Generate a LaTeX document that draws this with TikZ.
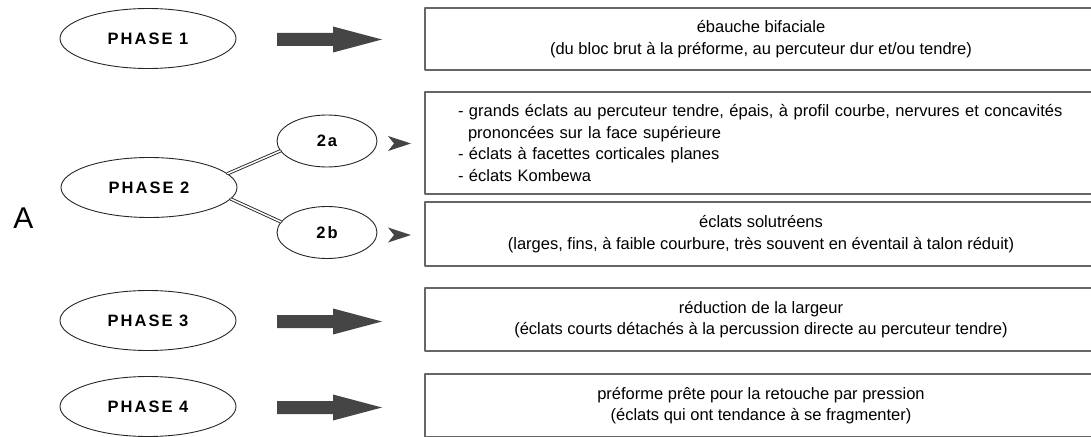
\documentclass[tikz,border=0pt]{standalone}
\usepackage{fontspec}
\setmainfont{Liberation Sans}
\usetikzlibrary{shapes.geometric}
\newcommand{\LineColor}{black!85}
\definecolor{ArrowGray}{gray}{0.27}
\definecolor{BoxGray}{gray}{0.40}

\begin{document}
\begin{tikzpicture}[line cap=round,line join=round,x=1pt,y=-1pt,
  phase/.style={ellipse,draw=\LineColor,line width=0.9pt,inner sep=0pt,
    minimum width=176pt,minimum height=60pt,
    font=\fontsize{16.5}{20}\selectfont\bfseries\addfontfeatures{LetterSpace=12}},
  subphase/.style={phase,minimum width=100pt,minimum height=52pt},
  stepbox/.style={draw=BoxGray,line width=1.5pt,minimum width=672pt,
    inner sep=0pt,align=center,font=\fontsize{16.5}{21.5}\selectfont},
  branch/.style={draw=\LineColor,double=white,double distance=1.5pt,line width=0.9pt}]
  \useasboundingbox (0,0) rectangle (1091,436);
  \clip (0,0) rectangle (1091,436);
  \node (lbl) at (23.5,218) {\fontsize{30}{30}\selectfont A};
  \node[phase] (p1) at (148,38.5) {PHASE 1};
  \node[phase] (p2) at (149,187.5) {PHASE 2};
  \node[subphase] (p2a) at (327,141) {2a};
  \node[subphase] (p2b) at (327,232.5) {2b};
  \node[phase] (p3) at (148,320.5) {PHASE 3};
  \node[phase] (p4) at (148,406.5) {PHASE 4};
  \draw[branch] (p2.10) -- (p2a.192);
  \draw[branch] (p2.-8) -- (p2b.167);
  % block arrows and small heads
  \foreach \y in {39.5,321.5,407.5}
    \fill[ArrowGray] (277,\y-6.5) -- (333,\y-6.5) -- (333,\y-13) -- (382,\y)
      -- (333,\y+13) -- (333,\y+6.5) -- (277,\y+6.5) -- cycle;
  \foreach \y in {143.5,235}
    \fill[ArrowGray] (388,\y-7.5) -- (411,\y) -- (388,\y+7.5) -- (394,\y) -- cycle;
  % boxes
  \node[stepbox,minimum height=62pt] (b1) at (761,39)
    {ébauche bifaciale\\(du bloc brut à la préforme, au percuteur dur et/ou tendre)};
  \node[stepbox,minimum height=102pt,align=left,text width=606pt] (b2) at (761,143)
    {- grands éclats au percuteur tendre, épais, à profil courbe, nervures et concavités\\
     \hspace*{10pt}prononcées sur la face supérieure\\
     - éclats à facettes corticales planes\\
     - éclats Kombewa};
  \node[stepbox,minimum height=64pt] (b3) at (761,234)
    {éclats solutréens\\(larges, fins, à faible courbure, très souvent en éventail à talon réduit)};
  \node[stepbox,minimum height=63pt] (b4) at (761,319.5)
    {réduction de la largeur\\(éclats courts détachés à la percussion directe au percuteur tendre)};
  \node[stepbox,minimum height=63pt] (b5) at (761,405.5)
    {préforme prête pour la retouche par pression\\(éclats qui ont tendance à se fragmenter)};
\end{tikzpicture}
\end{document}
